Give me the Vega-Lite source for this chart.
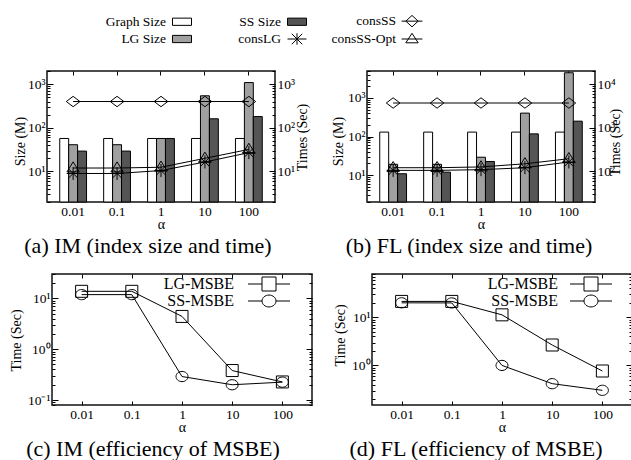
{
  "$schema": "https://vega.github.io/schema/vega-lite/v6.json",
  "padding": {"left": 8, "top": 10, "right": 0, "bottom": 0},
  "background": "white",
  "datasets": {
    "im_size": [
      {"alpha": "0.01", "series": "Graph Size", "size": 57}, {"alpha": "0.01", "series": "LG Size", "size": 41}, {"alpha": "0.01", "series": "SS Size", "size": 29.3},
      {"alpha": "0.1", "series": "Graph Size", "size": 57}, {"alpha": "0.1", "series": "LG Size", "size": 41}, {"alpha": "0.1", "series": "SS Size", "size": 29.3},
      {"alpha": "1", "series": "Graph Size", "size": 57}, {"alpha": "1", "series": "LG Size", "size": 57}, {"alpha": "1", "series": "SS Size", "size": 57},
      {"alpha": "10", "series": "Graph Size", "size": 57}, {"alpha": "10", "series": "LG Size", "size": 541}, {"alpha": "10", "series": "SS Size", "size": 161},
      {"alpha": "100", "series": "Graph Size", "size": 57}, {"alpha": "100", "series": "LG Size", "size": 1087}, {"alpha": "100", "series": "SS Size", "size": 181}
    ],
    "im_time": [
      {"alpha": "0.01", "series": "consSS", "time": 400}, {"alpha": "0.1", "series": "consSS", "time": 400}, {"alpha": "1", "series": "consSS", "time": 400}, {"alpha": "10", "series": "consSS", "time": 400}, {"alpha": "100", "series": "consSS", "time": 400},
      {"alpha": "0.01", "series": "consSS-Opt", "time": 12}, {"alpha": "0.1", "series": "consSS-Opt", "time": 12}, {"alpha": "1", "series": "consSS-Opt", "time": 12.5}, {"alpha": "10", "series": "consSS-Opt", "time": 20}, {"alpha": "100", "series": "consSS-Opt", "time": 32},
      {"alpha": "0.01", "series": "consLG", "time": 9}, {"alpha": "0.1", "series": "consLG", "time": 9}, {"alpha": "1", "series": "consLG", "time": 10.5}, {"alpha": "10", "series": "consLG", "time": 16.5}, {"alpha": "100", "series": "consLG", "time": 27}
    ],
    "fl_size": [
      {"alpha": "0.01", "series": "Graph Size", "size": 130}, {"alpha": "0.01", "series": "LG Size", "size": 19}, {"alpha": "0.01", "series": "SS Size", "size": 10.8},
      {"alpha": "0.1", "series": "Graph Size", "size": 130}, {"alpha": "0.1", "series": "LG Size", "size": 19}, {"alpha": "0.1", "series": "SS Size", "size": 11.9},
      {"alpha": "1", "series": "Graph Size", "size": 130}, {"alpha": "1", "series": "LG Size", "size": 29}, {"alpha": "1", "series": "SS Size", "size": 22.5},
      {"alpha": "10", "series": "Graph Size", "size": 130}, {"alpha": "10", "series": "LG Size", "size": 404}, {"alpha": "10", "series": "SS Size", "size": 117},
      {"alpha": "100", "series": "Graph Size", "size": 130}, {"alpha": "100", "series": "LG Size", "size": 4500}, {"alpha": "100", "series": "SS Size", "size": 250}
    ],
    "fl_time": [
      {"alpha": "0.01", "series": "consSS", "time": 3700}, {"alpha": "0.1", "series": "consSS", "time": 3700}, {"alpha": "1", "series": "consSS", "time": 3700}, {"alpha": "10", "series": "consSS", "time": 3700}, {"alpha": "100", "series": "consSS", "time": 3700},
      {"alpha": "0.01", "series": "consSS-Opt", "time": 122}, {"alpha": "0.1", "series": "consSS-Opt", "time": 122}, {"alpha": "1", "series": "consSS-Opt", "time": 127}, {"alpha": "10", "series": "consSS-Opt", "time": 150}, {"alpha": "100", "series": "consSS-Opt", "time": 196},
      {"alpha": "0.01", "series": "consLG", "time": 106}, {"alpha": "0.1", "series": "consLG", "time": 106}, {"alpha": "1", "series": "consLG", "time": 110}, {"alpha": "10", "series": "consLG", "time": 122}, {"alpha": "100", "series": "consLG", "time": 165}
    ],
    "im_msbe": [
      {"alpha": "0.01", "method": "LG-MSBE", "time": 13.7}, {"alpha": "0.1", "method": "LG-MSBE", "time": 13.7}, {"alpha": "1", "method": "LG-MSBE", "time": 4.4}, {"alpha": "10", "method": "LG-MSBE", "time": 0.38}, {"alpha": "100", "method": "LG-MSBE", "time": 0.227},
      {"alpha": "0.01", "method": "SS-MSBE", "time": 11.8}, {"alpha": "0.1", "method": "SS-MSBE", "time": 11.8}, {"alpha": "1", "method": "SS-MSBE", "time": 0.29}, {"alpha": "10", "method": "SS-MSBE", "time": 0.2}, {"alpha": "100", "method": "SS-MSBE", "time": 0.225}
    ],
    "fl_msbe": [
      {"alpha": "0.01", "method": "LG-MSBE", "time": 21.5}, {"alpha": "0.1", "method": "LG-MSBE", "time": 21.5}, {"alpha": "1", "method": "LG-MSBE", "time": 11.3}, {"alpha": "10", "method": "LG-MSBE", "time": 2.66}, {"alpha": "100", "method": "LG-MSBE", "time": 0.765},
      {"alpha": "0.01", "method": "SS-MSBE", "time": 20.1}, {"alpha": "0.1", "method": "SS-MSBE", "time": 20}, {"alpha": "1", "method": "SS-MSBE", "time": 1.0}, {"alpha": "10", "method": "SS-MSBE", "time": 0.417}, {"alpha": "100", "method": "SS-MSBE", "time": 0.303}
    ]
  },
  "resolve": {"scale": {"shape": "independent", "fill": "independent"}, "legend": {"shape": "independent", "fill": "independent"}},
  "spacing": 8,
  "vconcat": [
    {
      "hconcat": [
        {
          "width": 228, "height": 131,
          "title": {"text": "(a) IM (index size and time)", "orient": "bottom", "anchor": "middle", "frame": "group", "offset": 4, "dx": -13},
          "resolve": {"scale": {"y": "independent"}, "axis": {"x": "independent", "y": "independent"}},
          "layer": [
            {
              "data": {"name": "im_size"},
              "mark": {"type": "bar", "stroke": "black", "strokeWidth": 1},
              "encoding": {
                "x": {"field": "alpha", "type": "nominal", "scale": {"domain": ["0.01", "0.1", "1", "10", "100"], "paddingInner": 0.39, "paddingOuter": 0.29},
                  "axis": {"orient": "bottom", "title": "α", "labelAngle": 0, "tickSize": -4, "labelPadding": 6, "titlePadding": 0}},
                "xOffset": {"field": "series", "type": "nominal", "scale": {"domain": ["Graph Size", "LG Size", "SS Size"], "paddingInner": 0}},
                "y": {"field": "size", "type": "quantitative", "scale": {"type": "log", "domain": [2, 2000]},
                  "axis": {"orient": "left", "values": [2,3,4,5,6,7,8,9,10,20,30,40,50,60,70,80,90,100,200,300,400,500,600,700,800,900,1000,2000],
                    "labelExpr": "datum.value==10?'10¹':datum.value==100?'10²':datum.value==1000?'10³':''",
                    "tickSize": {"condition": {"test": "datum.value==10||datum.value==100||datum.value==1000", "value": -6}, "value": -3},
                    "labelPadding": 8, "title": "Size (M)", "titleX": -27, "titleY": 70, "titleAngle": 270, "titleAlign": "center", "titleBaseline": "middle"}},
                "y2": {"datum": 2},
                "fill": {"field": "series", "type": "nominal",
                  "scale": {"domain": ["Graph Size", "LG Size", "SS Size", "consLG", "consSS", "consSS-Opt"], "range": ["white", "#a0a0a0", "#555555", "transparent", "transparent", "transparent"]},
                  "legend": {"orient": "none", "legendX": 125, "legendY": -60, "title": null, "columns": 3, "gridAlign": "all", "columnPadding": 21, "rowPadding": -3,
                    "labelAlign": "right", "labelOffset": -26, "symbolSize": 361, "labelFontSize": 13.5, "symbolFillColor": "transparent",
                    "symbolStrokeColor": "black", "symbolStrokeWidth": 1, "symbolOpacity": 1, "padding": 0}}
              }
            },
            {
              "data": {"name": "im_time"},
              "encoding": {
                "x": {"field": "alpha", "type": "nominal", "axis": {"orient": "top", "labels": false, "title": null, "tickSize": -4}},
                "y": {"field": "time", "type": "quantitative", "scale": {"type": "log", "domain": [2, 2000]},
                  "axis": {"orient": "right", "values": [2,3,4,5,6,7,8,9,10,20,30,40,50,60,70,80,90,100,200,300,400,500,600,700,800,900,1000,2000],
                    "labelExpr": "datum.value==10?'10¹':datum.value==100?'10²':datum.value==1000?'10³':''",
                    "tickSize": {"condition": {"test": "datum.value==10||datum.value==100||datum.value==1000", "value": -6}, "value": -3},
                    "labelPadding": 8, "title": "Times (Sec)", "titleX": 27, "titleY": 66, "titleAngle": 270, "titleAlign": "center", "titleBaseline": "middle"}}
              },
              "layer": [
                {"mark": {"type": "line", "stroke": "black", "strokeWidth": 1}, "encoding": {"detail": {"field": "series", "type": "nominal"}}},
                {"transform": [{"filter": "datum.series === 'consSS'"}],
                  "mark": {"type": "point", "filled": false, "stroke": "black", "strokeWidth": 1, "size": 169, "opacity": 1, "shape": "M0,-0.8L1.05,0L0,0.8L-1.05,0Z"}},
                {"transform": [{"filter": "datum.series === 'consLG'"}],
                  "mark": {"type": "point", "filled": false, "stroke": "black", "strokeWidth": 1, "size": 169, "opacity": 1, "shape": "M-1,0H1M0,-1V1M-0.7,-0.7L0.7,0.7M-0.7,0.7L0.7,-0.7"}},
                {"transform": [{"filter": "datum.series === 'consSS-Opt'"}],
                  "mark": {"type": "point", "filled": false, "stroke": "black", "strokeWidth": 1, "size": 169, "opacity": 1, "shape": "M0,-0.95L0.95,0.6H-0.95Z"}},
                {"mark": {"type": "point", "filled": true, "opacity": 0},
                  "encoding": {
                    "fill": {"field": "series", "type": "nominal",
                      "scale": {"domain": ["Graph Size", "LG Size", "SS Size", "consLG", "consSS", "consSS-Opt"], "range": ["white", "#a0a0a0", "#555555", "transparent", "transparent", "transparent"]},
                      "legend": {"orient": "none", "legendX": 125, "legendY": -60, "title": null, "columns": 3, "gridAlign": "all", "columnPadding": 21, "rowPadding": -3,
                        "labelAlign": "right", "labelOffset": -26, "symbolSize": 361, "labelFontSize": 13.5, "symbolFillColor": "transparent",
                        "symbolStrokeColor": "black", "symbolStrokeWidth": 1, "symbolOpacity": 1, "padding": 0}},
                    "shape": {"field": "series", "type": "nominal",
                      "scale": {"domain": ["Graph Size", "LG Size", "SS Size", "consLG", "consSS", "consSS-Opt"],
                        "range": ["M-1,-0.38H1V0.38H-1Z", "M-1,-0.38H1V0.38H-1Z", "M-1,-0.38H1V0.38H-1Z", "M-1,0H1M0,-0.6V0.6M-0.55,-0.55L0.55,0.55M-0.55,0.55L0.55,-0.55", "M-1.1,0H1.1M0,-0.6L0.65,0L0,0.6L-0.65,0Z", "M-1.1,0H1.1M0,-0.6L0.65,0.4H-0.65Z"]},
                      "legend": {"orient": "none", "legendX": 125, "legendY": -60, "title": null, "columns": 3, "gridAlign": "all", "columnPadding": 21, "rowPadding": -3,
                        "labelAlign": "right", "labelOffset": -26, "symbolSize": 361, "labelFontSize": 13.5, "symbolFillColor": "transparent",
                        "symbolStrokeColor": "black", "symbolStrokeWidth": 1, "symbolOpacity": 1, "padding": 0}}
                  }
                }
              ]
            }
          ]
        },
        {
          "width": 228, "height": 131,
          "title": {"text": "(b) FL (index size and time)", "orient": "bottom", "anchor": "middle", "frame": "group", "offset": 4, "dx": -12},
          "resolve": {"scale": {"y": "independent"}, "axis": {"x": "independent", "y": "independent"}},
          "layer": [
            {
              "data": {"name": "fl_size"},
              "mark": {"type": "bar", "stroke": "black", "strokeWidth": 1},
              "encoding": {
                "x": {"field": "alpha", "type": "nominal", "scale": {"domain": ["0.01", "0.1", "1", "10", "100"], "paddingInner": 0.39, "paddingOuter": 0.29},
                  "axis": {"orient": "bottom", "title": "α", "labelAngle": 0, "tickSize": -4, "labelPadding": 6, "titlePadding": 0}},
                "xOffset": {"field": "series", "type": "nominal", "scale": {"domain": ["Graph Size", "LG Size", "SS Size"], "paddingInner": 0}},
                "y": {"field": "size", "type": "quantitative", "scale": {"type": "log", "domain": [2, 5000]},
                  "axis": {"orient": "left", "values": [2,3,4,5,6,7,8,9,10,20,30,40,50,60,70,80,90,100,200,300,400,500,600,700,800,900,1000,2000,3000,4000,5000],
                    "labelExpr": "datum.value==10?'10¹':datum.value==100?'10²':datum.value==1000?'10³':''",
                    "tickSize": {"condition": {"test": "datum.value==10||datum.value==100||datum.value==1000", "value": -6}, "value": -3},
                    "labelPadding": 8, "title": "Size (M)", "titleX": -29, "titleY": 70, "titleAngle": 270, "titleAlign": "center", "titleBaseline": "middle"}},
                "y2": {"datum": 2},
                "fill": {"field": "series", "type": "nominal", "scale": {"domain": ["Graph Size", "LG Size", "SS Size"], "range": ["white", "#a0a0a0", "#555555"]}, "legend": null}
              }
            },
            {
              "data": {"name": "fl_time"},
              "encoding": {
                "x": {"field": "alpha", "type": "nominal", "axis": {"orient": "top", "labels": false, "title": null, "tickSize": -4}},
                "y": {"field": "time", "type": "quantitative", "scale": {"type": "log", "domain": [20, 20000]},
                  "axis": {"orient": "right", "values": [20,30,40,50,60,70,80,90,100,200,300,400,500,600,700,800,900,1000,2000,3000,4000,5000,6000,7000,8000,9000,10000,20000],
                    "labelExpr": "datum.value==100?'10²':datum.value==1000?'10³':datum.value==10000?'10⁴':''",
                    "tickSize": {"condition": {"test": "datum.value==100||datum.value==1000||datum.value==10000", "value": -6}, "value": -3},
                    "labelPadding": 8, "title": "Times (Sec)", "titleX": 20, "titleY": 71, "titleAngle": 270, "titleAlign": "center", "titleBaseline": "middle"}}
              },
              "layer": [
                {"mark": {"type": "line", "stroke": "black", "strokeWidth": 1}, "encoding": {"detail": {"field": "series", "type": "nominal"}}},
                {"transform": [{"filter": "datum.series === 'consSS'"}],
                  "mark": {"type": "point", "filled": false, "stroke": "black", "strokeWidth": 1, "size": 169, "opacity": 1, "shape": "M0,-0.8L1.05,0L0,0.8L-1.05,0Z"}},
                {"transform": [{"filter": "datum.series === 'consLG'"}],
                  "mark": {"type": "point", "filled": false, "stroke": "black", "strokeWidth": 1, "size": 169, "opacity": 1, "shape": "M-1,0H1M0,-1V1M-0.7,-0.7L0.7,0.7M-0.7,0.7L0.7,-0.7"}},
                {"transform": [{"filter": "datum.series === 'consSS-Opt'"}],
                  "mark": {"type": "point", "filled": false, "stroke": "black", "strokeWidth": 1, "size": 169, "opacity": 1, "shape": "M0,-0.95L0.95,0.6H-0.95Z"}}
              ]
            }
          ]
        }
      ],
      "spacing": 92,
      "bounds": "flush",
      "resolve": {"scale": {"shape": "independent", "fill": "independent"}, "legend": {"shape": "independent", "fill": "independent"}}
    },
    {
      "hconcat": [
        {
          "hconcat": [
            {"width": 1, "height": 1, "data": {"values": []}, "mark": "point", "view": {"stroke": null}},
            {
              "width": 260, "height": 131,
              "data": {"name": "im_msbe"},
              "title": {"text": "(c) IM (efficiency of MSBE)", "orient": "bottom", "anchor": "middle", "frame": "group", "offset": 4, "dx": -29},
              "resolve": {"axis": {"x": "independent", "y": "independent"}},
              "encoding": {
                "x": {"field": "alpha", "type": "nominal", "scale": {"type": "point", "domain": ["0.01", "0.1", "1", "10", "100"], "padding": 0.59}},
                "y": {"field": "time", "type": "quantitative", "scale": {"type": "log", "domain": [0.08, 30]}}
              },
              "layer": [
                {
                  "mark": {"type": "line", "stroke": "black", "strokeWidth": 1},
                  "encoding": {
                    "x": {"field": "alpha", "type": "nominal", "axis": {"orient": "bottom", "title": "α", "labelAngle": 0, "tickSize": -4, "labelPadding": 6, "titlePadding": 0}},
                    "y": {"field": "time", "type": "quantitative",
                      "axis": {"orient": "left", "values": [0.08,0.09,0.1,0.2,0.3,0.4,0.5,0.6,0.7,0.8,0.9,1,2,3,4,5,6,7,8,9,10,20,30],
                        "labelExpr": "datum.value==0.1?'10⁻¹':datum.value==1?'10⁰':datum.value==10?'10¹':''",
                        "tickSize": {"condition": {"test": "datum.value==0.1||datum.value==1||datum.value==10", "value": -6}, "value": -3},
                        "labelPadding": 8, "title": "Time (Sec)", "titleX": -36, "titleY": 66, "titleAngle": 270, "titleAlign": "center", "titleBaseline": "middle"}},
                    "detail": {"field": "method", "type": "nominal"}
                  }
                },
                {
                  "transform": [{"filter": "datum.method === 'LG-MSBE'"}],
                  "mark": {"type": "point", "filled": false, "stroke": "black", "strokeWidth": 1, "size": 144, "opacity": 1, "shape": "M-1,-1H1V1H-1Z"},
                  "encoding": {
                    "x": {"field": "alpha", "type": "nominal", "axis": {"orient": "top", "labels": false, "title": null, "tickSize": -4}},
                    "y": {"field": "time", "type": "quantitative",
                      "axis": {"orient": "right", "labels": false, "title": null, "values": [0.08,0.09,0.1,0.2,0.3,0.4,0.5,0.6,0.7,0.8,0.9,1,2,3,4,5,6,7,8,9,10,20,30],
                        "tickSize": {"condition": {"test": "datum.value==0.1||datum.value==1||datum.value==10", "value": -6}, "value": -3}}}
                  }
                },
                {
                  "transform": [{"filter": "datum.method === 'SS-MSBE'"}],
                  "mark": {"type": "point", "filled": false, "stroke": "black", "strokeWidth": 1, "size": 144, "opacity": 1, "shape": "M1,0A1,0.85 0 1,1 -1,0A1,0.85 0 1,1 1,0"},
                  "encoding": {"x": {"field": "alpha", "type": "nominal", "axis": null}, "y": {"field": "time", "type": "quantitative", "axis": null}}
                },
                {
                  "mark": {"type": "point", "filled": false, "opacity": 0},
                  "encoding": {
                    "x": {"field": "alpha", "type": "nominal", "axis": null}, "y": {"field": "time", "type": "quantitative", "axis": null},
                    "shape": {"field": "method", "type": "nominal",
                      "scale": {"domain": ["LG-MSBE", "SS-MSBE"], "range": ["M-3,0H-1M1,0H3M-1,-1H1V1H-1Z", "M-3,0H-1M1,0H3M1,0A1,0.85 0 1,1 -1,0A1,0.85 0 1,1 1,0"]},
                      "legend": {"orient": "none", "legendX": 209, "legendY": 2, "title": null, "labelAlign": "right", "labelOffset": -43, "symbolSize": 196, "rowPadding": -4,
                        "labelFontSize": 16, "symbolFillColor": "transparent", "symbolStrokeColor": "black", "symbolStrokeWidth": 1, "symbolOpacity": 1, "padding": 0}
                    }
                  }
                }
              ]
            }
          ],
          "spacing": 4,
          "bounds": "flush",
          "resolve": {"scale": {"shape": "independent", "fill": "independent"}, "legend": {"shape": "independent", "fill": "independent"}}
        },
        {
          "width": 260, "height": 131,
          "data": {"name": "fl_msbe"},
          "title": {"text": "(d) FL (efficiency of MSBE)", "orient": "bottom", "anchor": "middle", "frame": "group", "offset": 4, "dx": -26},
          "resolve": {"axis": {"x": "independent", "y": "independent"}},
          "encoding": {
            "x": {"field": "alpha", "type": "nominal", "scale": {"type": "point", "domain": ["0.01", "0.1", "1", "10", "100"], "padding": 0.59}},
            "y": {"field": "time", "type": "quantitative", "scale": {"type": "log", "domain": [0.15, 80]}}
          },
          "layer": [
            {
              "mark": {"type": "line", "stroke": "black", "strokeWidth": 1},
              "encoding": {
                "x": {"field": "alpha", "type": "nominal", "axis": {"orient": "bottom", "title": "α", "labelAngle": 0, "tickSize": -4, "labelPadding": 6, "titlePadding": 0}},
                "y": {"field": "time", "type": "quantitative",
                  "axis": {"orient": "left", "values": [0.2,0.3,0.4,0.5,0.6,0.7,0.8,0.9,1,2,3,4,5,6,7,8,9,10,20,30,40,50,60,70,80],
                    "labelExpr": "datum.value==1?'10⁰':datum.value==10?'10¹':''",
                    "tickSize": {"condition": {"test": "datum.value==1||datum.value==10", "value": -6}, "value": -3},
                    "labelPadding": 8, "title": "Time (Sec)", "titleX": -32, "titleY": 61, "titleAngle": 270, "titleAlign": "center", "titleBaseline": "middle"}},
                "detail": {"field": "method", "type": "nominal"}
              }
            },
            {
              "transform": [{"filter": "datum.method === 'LG-MSBE'"}],
              "mark": {"type": "point", "filled": false, "stroke": "black", "strokeWidth": 1, "size": 144, "opacity": 1, "shape": "M-1,-1H1V1H-1Z"},
              "encoding": {
                "x": {"field": "alpha", "type": "nominal", "axis": {"orient": "top", "labels": false, "title": null, "tickSize": -4}},
                "y": {"field": "time", "type": "quantitative",
                  "axis": {"orient": "right", "labels": false, "title": null, "values": [0.2,0.3,0.4,0.5,0.6,0.7,0.8,0.9,1,2,3,4,5,6,7,8,9,10,20,30,40,50,60,70,80],
                    "tickSize": {"condition": {"test": "datum.value==1||datum.value==10", "value": -6}, "value": -3}}}
              }
            },
            {
              "transform": [{"filter": "datum.method === 'SS-MSBE'"}],
              "mark": {"type": "point", "filled": false, "stroke": "black", "strokeWidth": 1, "size": 144, "opacity": 1, "shape": "M1,0A1,0.85 0 1,1 -1,0A1,0.85 0 1,1 1,0"},
              "encoding": {"x": {"field": "alpha", "type": "nominal", "axis": null}, "y": {"field": "time", "type": "quantitative", "axis": null}}
            },
            {
              "mark": {"type": "point", "filled": false, "opacity": 0},
              "encoding": {
                "x": {"field": "alpha", "type": "nominal", "axis": null}, "y": {"field": "time", "type": "quantitative", "axis": null},
                "shape": {"field": "method", "type": "nominal",
                  "scale": {"domain": ["LG-MSBE", "SS-MSBE"], "range": ["M-3,0H-1M1,0H3M-1,-1H1V1H-1Z", "M-3,0H-1M1,0H3M1,0A1,0.85 0 1,1 -1,0A1,0.85 0 1,1 1,0"]},
                  "legend": {"orient": "none", "legendX": 211, "legendY": 2, "title": null, "labelAlign": "right", "labelOffset": -41, "symbolSize": 196, "rowPadding": -4,
                    "labelFontSize": 16, "symbolFillColor": "transparent", "symbolStrokeColor": "black", "symbolStrokeWidth": 1, "symbolOpacity": 1, "padding": 0}
                }
              }
            }
          ]
        }
      ],
      "spacing": 18,
      "bounds": "full",
      "resolve": {"scale": {"shape": "independent", "fill": "independent"}, "legend": {"shape": "independent", "fill": "independent"}}
    }
  ],
  "config": {
    "view": {"stroke": "#111111", "strokeWidth": 1.5},
    "axis": {"domain": false, "grid": false, "tickColor": "black", "tickWidth": 1, "labelColor": "black", "titleColor": "black",
      "labelFont": "Liberation Serif", "titleFont": "Liberation Serif", "labelFontSize": 13.5, "titleFontSize": 14, "titleFontWeight": "normal", "labelOverlap": false},
    "title": {"font": "Liberation Serif", "fontSize": 22, "fontWeight": "normal", "color": "black"},
    "legend": {"labelFont": "Liberation Serif", "labelColor": "black", "labelLimit": 300}
  }
}
